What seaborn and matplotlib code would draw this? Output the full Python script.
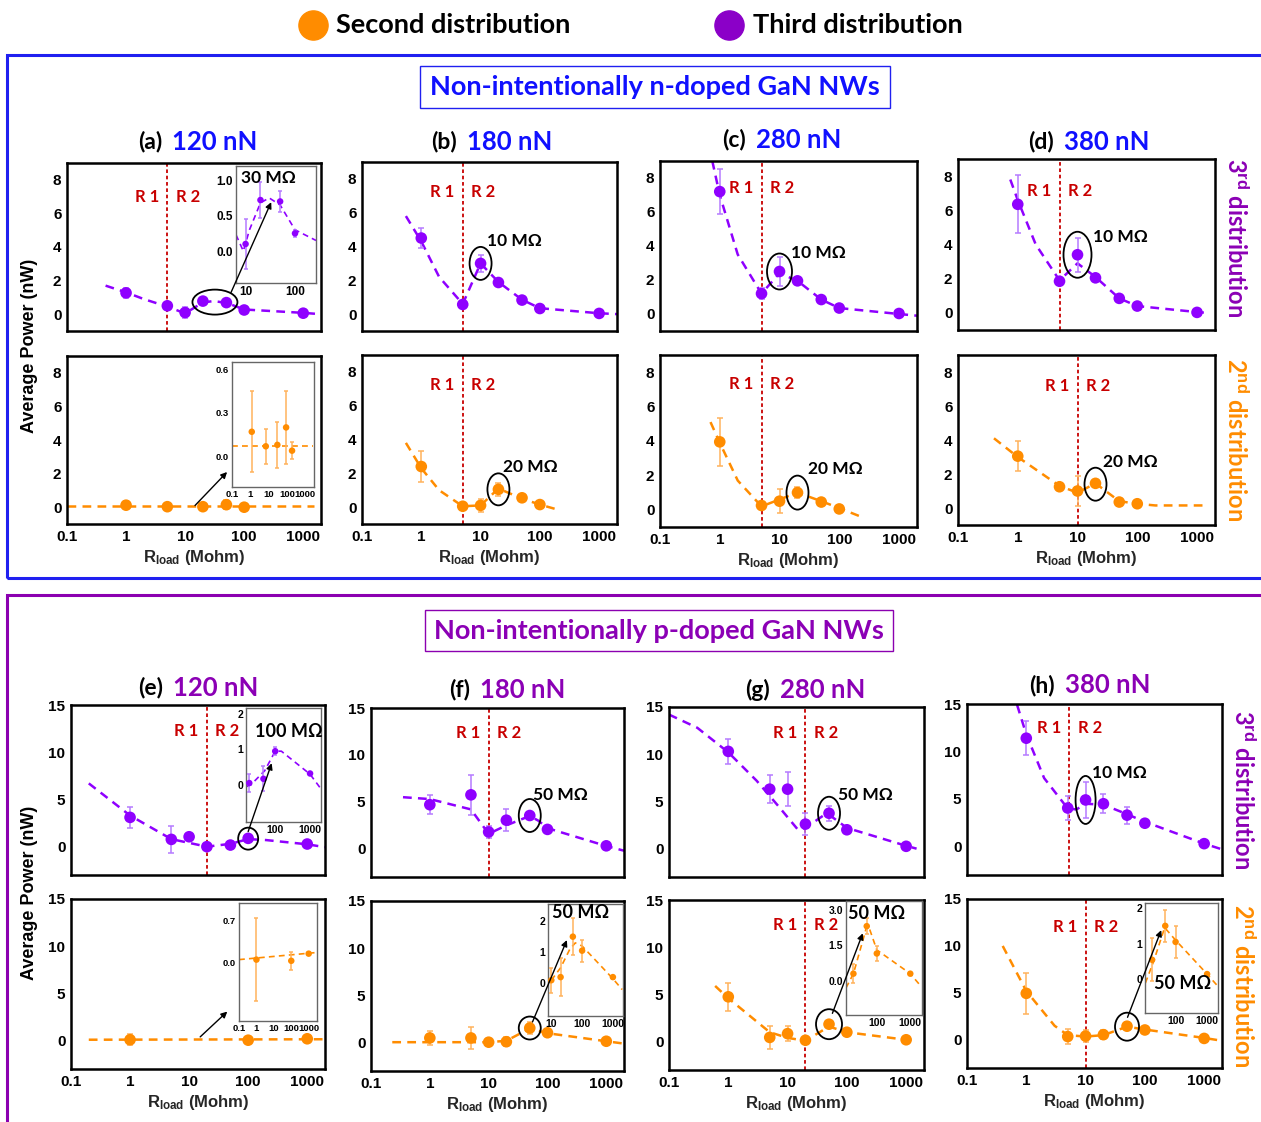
import numpy as np
import matplotlib
matplotlib.use("Agg")
import matplotlib.pyplot as plt
import matplotlib.transforms as mtransforms
from matplotlib.patches import Ellipse, Rectangle, ConnectionPatch
from matplotlib.lines import Line2D
from matplotlib.ticker import (LogLocator, MultipleLocator, FixedLocator,
                               FuncFormatter, NullFormatter)
import seaborn as sns

W, H = 1261, 1122

PURPLE = '#8F00FF'
PURPLE_ERR = '#B57BFF'
ORANGE = '#FF8C00'
ORANGE_ERR = '#FFB35C'
RED = '#C80000'
BLUE = '#1010FF'
PLUM = '#8B00B5'

# ---------------- data ----------------
r_all = [1, 5, 10, 20, 50, 100, 1000]
r_six = [1, 5, 10, 20, 50, 100]

# (a) 120 nN, n-doped
a3_y = [1.27, 0.5, 0.1, 0.78, 0.69, 0.25, 0.06]
a3_err = [0.3, 0.1, 0.3, 0.2, 0.15, 0.1, 0.05]
a3_fit_x = [0.45, 1, 2, 5, 10, 20, 30, 50, 100, 1000, 2000]
a3_fit_y = [1.7, 1.3, 0.9, 0.45, 0.05, 0.7, 0.78, 0.68, 0.28, 0.08, 0.0]
a3_in_x = [10, 20, 50, 100]
a3_in_y = [0.1, 0.72, 0.7, 0.25]
a3_in_err = [0.35, 0.25, 0.15, 0.05]
a3_in_fit_x = [6.4, 9, 12, 20, 30, 50, 100, 266]
a3_in_fit_y = [0.23, 0.0, 0.3, 0.68, 0.75, 0.65, 0.3, 0.15]
a2_x = [1, 5, 20, 50, 100]
a2_y = [0.12, 0.03, 0.03, 0.15, 0.0]
a2_err = [0.25, 0.1, 0.1, 0.25, 0.1]
a2_fit_x = [0.1, 1500]
a2_fit_y = [0.05, 0.05]
a2_in_x = [1.2, 7, 30, 90, 190]
a2_in_y = [0.17, 0.07, 0.08, 0.2, 0.04]
a2_in_err = [0.28, 0.12, 0.16, 0.25, 0.06]
a2_in_fit_x = [0.1, 2500]
a2_in_fit_y = [0.07, 0.07]

# (b) 180 nN
b3_y = [4.5, 0.57, 3.0, 1.87, 0.83, 0.33, 0.04]
b3_err = [0.6, 0.1, 0.5, 0.15, 0.1, 0.1, 0.05]
b3_fit_x = [0.55, 1, 2, 5, 10, 20, 50, 100, 1000, 2000]
b3_fit_y = [5.8, 4.3, 2.2, 0.6, 3.0, 1.9, 0.85, 0.35, 0.05, 0.0]
b2_y = [2.4, 0.05, 0.1, 1.05, 0.55, 0.15]
b2_err = [0.9, 0.1, 0.4, 0.4, 0.1, 0.1]
b2_fit_x = [0.55, 1, 2, 5, 10, 20, 50, 100, 200]
b2_fit_y = [3.8, 2.3, 1.0, 0.05, 0.1, 1.1, 0.5, 0.15, -0.15]

# (c) 280 nN
c3_y = [7.2, 1.2, 2.5, 1.95, 0.85, 0.35, 0.03]
c3_err = [1.3, 0.3, 0.85, 0.15, 0.1, 0.1, 0.05]
c3_fit_x = [0.75, 1, 2, 5, 10, 20, 50, 100, 1000, 2000]
c3_fit_y = [9.0, 7.0, 3.5, 1.2, 2.4, 1.95, 0.85, 0.35, 0.0, -0.1]
c2_y = [3.95, 0.25, 0.5, 1.0, 0.45, 0.05]
c2_err = [1.4, 0.15, 0.7, 0.3, 0.1, 0.1]
c2_fit_x = [0.7, 1, 2, 5, 10, 20, 50, 100, 230]
c2_fit_y = [5.1, 3.9, 1.7, 0.2, 0.6, 1.0, 0.5, 0.1, -0.4]

# (d) 380 nN
d3_y = [6.35, 1.85, 3.4, 2.05, 0.85, 0.4, 0.03]
d3_err = [1.7, 0.1, 1.0, 0.15, 0.1, 0.1, 0.05]
d3_fit_x = [0.75, 1, 2, 5, 10, 20, 50, 100, 1000, 1500]
d3_fit_y = [7.8, 6.6, 4.0, 1.9, 2.9, 2.1, 0.85, 0.4, 0.05, 0.0]
d2_y = [3.05, 1.25, 1.0, 1.45, 0.35, 0.25]
d2_err = [0.9, 0.1, 0.9, 0.2, 0.1, 0.1]
d2_fit_x = [0.4, 1, 5, 10, 20, 50, 100, 200, 1500]
d2_fit_y = [4.1, 3.0, 1.3, 0.9, 1.45, 0.4, 0.25, 0.15, 0.15]

# (e) 120 nN, p-doped
e3_y = [3.1, 0.77, 1.05, 0.0, 0.17, 0.88, 0.28]
e3_err = [1.1, 1.4, 0.1, 0.1, 0.1, 0.2, 0.1]
e3_fit_x = [0.2, 1, 5, 10, 20, 50, 100, 200, 1000, 2000]
e3_fit_y = [6.7, 3.3, 0.8, 0.4, 0.0, 0.3, 0.8, 0.7, 0.25, -0.05]
e3_in_x = [18, 46, 100, 1000]
e3_in_y = [0.05, 0.17, 0.95, 0.32]
e3_in_err = [0.25, 0.35, 0.12, 0.05]
e3_in_fit_x = [15, 20, 50, 100, 150, 1000, 2000]
e3_in_fit_y = [-0.05, 0.0, 0.4, 0.95, 0.95, 0.3, -0.1]
e2_x = [1, 100, 1000]
e2_y = [0.1, 0.05, 0.2]
e2_err = [0.6, 0.1, 0.1]
e2_fit_x = [0.2, 2000]
e2_fit_y = [0.1, 0.15]
e2_in_x = [1, 100, 1000]
e2_in_y = [0.05, 0.03, 0.15]
e2_in_err = [0.7, 0.15, 0.03]
e2_in_fit_x = [0.1, 3000]
e2_in_fit_y = [0.05, 0.17]

# (f) 180 nN
f3_y = [4.7, 5.75, 1.8, 3.05, 3.55, 2.07, 0.32]
f3_err = [1.0, 2.1, 0.6, 1.2, 0.2, 0.2, 0.1]
f3_fit_x = [0.35, 1, 5, 10, 20, 50, 70, 100, 1000, 2000]
f3_fit_y = [5.5, 5.3, 4.2, 1.6, 2.5, 3.5, 3.0, 2.2, 0.3, -0.2]
f2_y = [0.5, 0.5, 0.05, 0.1, 1.55, 1.05, 0.15]
f2_err = [0.7, 1.2, 0.1, 0.5, 0.6, 0.1, 0.1]
f2_fit_x = [0.23, 10, 20, 50, 100, 1000, 2000]
f2_fit_y = [0.05, 0.05, 0.2, 1.5, 1.0, 0.15, -0.1]
f2_in_x = [10, 20, 50, 100, 1000]
f2_in_y = [0.1, 0.2, 1.5, 1.05, 0.2]
f2_in_err = [0.4, 0.6, 0.6, 0.35, 0.05]
f2_in_fit_x = [10, 20, 40, 60, 100, 1000, 2000]
f2_in_fit_y = [0.1, 0.5, 1.1, 1.3, 1.2, 0.15, -0.2]

# (g) 280 nN
g3_y = [10.3, 6.3, 6.3, 2.6, 3.75, 2.0, 0.25]
g3_err = [1.3, 1.5, 1.8, 1.2, 0.8, 0.2, 0.1]
g3_fit_x = [0.1, 0.3, 1, 3, 7, 15, 20, 40, 50, 100, 1000, 1500]
g3_fit_y = [14.2, 12.8, 10.2, 7.2, 4.5, 2.0, 2.2, 3.5, 3.6, 2.2, 0.3, 0.0]
g2_y = [4.75, 0.45, 0.85, 0.15, 1.85, 1.0, 0.2]
g2_err = [1.5, 1.2, 0.8, 0.1, 0.2, 0.1, 0.1]
g2_fit_x = [0.6, 1, 5, 10, 20, 50, 100, 1000, 1500]
g2_fit_y = [5.9, 4.6, 1.0, 0.4, 0.1, 1.6, 1.0, 0.2, 0.1]
g2_in_x = [20, 50, 100, 1000]
g2_in_y = [0.3, 2.3, 1.15, 0.3]
g2_in_err = [0.4, 0.35, 0.3, 0.05]
g2_in_fit_x = [12, 20, 40, 50, 60, 100, 1000, 2000]
g2_in_fit_y = [-0.3, 0.3, 1.8, 2.3, 2.2, 1.3, 0.3, -0.2]

# (h) 380 nN
h3_y = [11.4, 4.05, 4.9, 4.5, 3.3, 2.45, 0.3]
h3_err = [1.8, 1.3, 1.9, 1.0, 0.9, 0.2, 0.1]
h3_fit_x = [0.7, 1, 2, 5, 7, 10, 20, 50, 100, 1000, 2000]
h3_fit_y = [14.9, 11.8, 7.2, 4.0, 3.9, 4.5, 4.4, 3.4, 2.6, 0.3, -0.3]
h2_y = [4.95, 0.35, 0.4, 0.55, 1.45, 1.05, 0.15]
h2_err = [2.2, 0.8, 0.6, 0.5, 0.4, 0.1, 0.1]
h2_fit_x = [0.4, 1, 3, 5, 10, 20, 50, 100, 1000, 2000]
h2_fit_y = [10.0, 5.2, 1.5, 0.5, 0.35, 0.5, 1.4, 1.1, 0.2, -0.1]
h2_in_x = [18, 47, 100, 1000]
h2_in_y = [0.55, 1.5, 1.05, 0.15]
h2_in_err = [0.6, 0.45, 0.45, 0.03]
h2_in_fit_x = [11, 20, 45, 100, 1000, 2000]
h2_in_fit_y = [-0.1, 0.5, 1.45, 1.1, 0.15, -0.15]

# ---------------- style ----------------
sns.set_theme(style="white")
plt.rcParams['font.family'] = ['Liberation Sans', 'DejaVu Sans']
plt.rcParams['font.weight'] = 'bold'
plt.rcParams['axes.labelweight'] = 'bold'
plt.rcParams['mathtext.fontset'] = 'custom'
plt.rcParams['mathtext.rm'] = 'Liberation Sans:bold'
plt.rcParams['mathtext.it'] = 'Liberation Sans:bold'
plt.rcParams['mathtext.bf'] = 'Liberation Sans:bold'
CAL = ['Lato', 'DejaVu Sans']

fig = plt.figure(figsize=(W / 100, H / 100), dpi=100)
fmt_g = FuncFormatter(lambda v, _: f'{v:g}')


def px(x0, y0, x1, y1):
    return [x0 / W, 1 - y1 / H, (x1 - x0) / W, (y1 - y0) / H]


def main_axes(rect, big, xlabels):
    ax = fig.add_axes(px(*rect))
    ax.set_xscale('log')
    ax.set_xlim(0.1, 2000)
    if big:
        ax.set_ylim(-3, 15)
        ax.yaxis.set_major_locator(MultipleLocator(5))
        ax.yaxis.set_minor_locator(MultipleLocator(2.5))
    else:
        ax.set_ylim(-1, 9)
        ax.yaxis.set_major_locator(MultipleLocator(2))
        ax.yaxis.set_minor_locator(MultipleLocator(1))
    ax.xaxis.set_major_locator(LogLocator(base=10, numticks=12))
    ax.xaxis.set_minor_locator(LogLocator(base=10, subs=np.arange(2, 10), numticks=12))
    ax.xaxis.set_major_formatter(fmt_g)
    ax.xaxis.set_minor_formatter(NullFormatter())
    ax.tick_params(which='both', direction='in', top=False, right=False,
                   width=1.3, labelsize=11, pad=4, colors='black')
    ax.tick_params(which='major', length=5)
    ax.tick_params(which='minor', length=3)
    ax.tick_params(axis='x', labelbottom=xlabels)
    for s in ax.spines.values():
        s.set_linewidth(1.8)
        s.set_color('black')
    if xlabels:
        ax.set_xlabel(r'R$_{\mathrm{load}}$ (Mohm)', fontsize=12, labelpad=3)
    return ax


def inset(rect, xlim, ylim, yticks, ylabels, xticks, lsize=7.5):
    ax = fig.add_axes(px(*rect))
    ax.set_xscale('log')
    ax.set_xlim(*xlim)
    ax.set_ylim(*ylim)
    ax.yaxis.set_major_locator(FixedLocator(yticks))
    ax.set_yticklabels(ylabels)
    ax.xaxis.set_major_locator(FixedLocator(xticks))
    ax.xaxis.set_major_formatter(fmt_g)
    ax.xaxis.set_minor_locator(LogLocator(base=10, subs=np.arange(2, 10), numticks=12))
    ax.xaxis.set_minor_formatter(NullFormatter())
    ax.tick_params(which='both', direction='in', top=False, right=False,
                   labelsize=lsize, pad=2, width=0.8, colors='black')
    ax.tick_params(which='major', length=3)
    ax.tick_params(which='minor', length=1.5)
    for s in ax.spines.values():
        s.set_linewidth(1.0)
        s.set_color('#666666')
    ax.set_facecolor('white')
    return ax


def series(ax, x, y, err, fx, fy, color, ecolor, s=70, lw=1.8, cap=2.5):
    ax.plot(fx, fy, color=color, lw=lw, ls=(0, (3.5, 2.5)), zorder=2)
    ax.errorbar(x, y, yerr=err, fmt='none', ecolor=ecolor, elinewidth=1.1,
                capsize=cap, capthick=1.1, zorder=3)
    sns.scatterplot(x=x, y=y, ax=ax, color=color, s=s, edgecolor='none',
                    linewidth=0, zorder=4, legend=False)


def regions(ax, xv, ytxt=None):
    ax.axvline(xv, color=RED, lw=1.3, ls=(0, (2, 1.5)), zorder=1)
    if ytxt is not None:
        kw = dict(textcoords='offset points', va='center', color=RED,
                  fontsize=12, family=CAL, fontweight='bold')
        ax.annotate('R 1', (xv, ytxt), xytext=(-6, 0), ha='right', **kw)
        ax.annotate('R 2', (xv, ytxt), xytext=(6, 0), ha='left', **kw)


def ring(ax, x, y, w, h):
    tr = fig.dpi_scale_trans + mtransforms.ScaledTranslation(x, y, ax.transData)
    ax.add_patch(Ellipse((0, 0), w / 100, h / 100, transform=tr, fill=False,
                         ec='black', lw=1.3, zorder=5))


def tag(ax, text, x, y, coords='data', fs=12.5):
    tr = ax.transData if coords == 'data' else ax.transAxes
    ax.text(x, y, text, transform=tr, ha='left', va='center', fontsize=fs,
            family=CAL, fontweight='bold', color='black', zorder=6)


def pointer(ax, xy, ins, xy2, axes_frac=False):
    con = ConnectionPatch(xyA=xy, coordsA=ax.transData, xyB=xy2,
                          coordsB=ins.transAxes if axes_frac else ins.transData,
                          arrowstyle='-|>', mutation_scale=9, lw=1.0,
                          color='black', zorder=10)
    fig.add_artist(con)


def title(x_mid, y, letter, force, color):
    fig.text(x_mid / W, 1 - y / H, letter, ha='right', va='center',
             fontsize=16.5, family=CAL, fontweight='bold', color='black')
    fig.text((x_mid + 10) / W, 1 - y / H, force, ha='left', va='center',
             fontsize=18.5, family=CAL, fontweight='bold', color=color)


# ---------------- frames, legend, headers ----------------
fig.add_artist(Rectangle((7 / W, 1 - 578 / H), 1270 / W, 523 / H, transform=fig.transFigure,
                         fill=False, ec='#2020F0', lw=2.2))
fig.add_artist(Rectangle((7 / W, 1 - 1130 / H), 1270 / W, 535 / H, transform=fig.transFigure,
                         fill=False, ec='#8B00B0', lw=2.2))
fig.add_artist(Rectangle((420 / W, 1 - 108 / H), 470 / W, 42 / H, transform=fig.transFigure,
                         fill=False, ec='#2020F0', lw=1.0))
fig.text(655 / W, 1 - 87 / H, 'Non-intentionally n-doped GaN NWs', ha='center', va='center',
         fontsize=19.5, family=CAL, fontweight='bold', color=BLUE)
fig.add_artist(Rectangle((425 / W, 1 - 651 / H), 468 / W, 41 / H, transform=fig.transFigure,
                         fill=False, ec='#8B00B0', lw=1.0))
fig.text(659 / W, 1 - 631 / H, 'Non-intentionally p-doped GaN NWs', ha='center', va='center',
         fontsize=19.5, family=CAL, fontweight='bold', color=PLUM)

fig.add_artist(Line2D([313 / W], [1 - 25 / H], marker='o', ms=21, color=ORANGE,
                      ls='none', transform=fig.transFigure))
fig.text(336 / W, 1 - 25 / H, 'Second distribution', ha='left', va='center',
         fontsize=19.5, family=CAL, fontweight='bold', color='black')
fig.add_artist(Line2D([729 / W], [1 - 25 / H], marker='o', ms=21, color='#8B00C8',
                      ls='none', transform=fig.transFigure))
fig.text(753 / W, 1 - 25 / H, 'Third distribution', ha='left', va='center',
         fontsize=19.5, family=CAL, fontweight='bold', color='black')

for ymid in (346, 893):
    fig.text(30 / W, 1 - ymid / H, 'Average Power (nW)', rotation=90, ha='center',
             va='center', fontsize=13, fontweight='bold', color='black')

for xm, ym, txt, col in [(1236, 238, r'3$^{\mathrm{rd}}$ distribution', PLUM),
                         (1236, 440, r'2$^{\mathrm{nd}}$ distribution', ORANGE),
                         (1243, 790, r'3$^{\mathrm{rd}}$ distribution', PLUM),
                         (1243, 986, r'2$^{\mathrm{nd}}$ distribution', ORANGE)]:
    fig.text(xm / W, 1 - ym / H, txt, rotation=-90, ha='center', va='center',
             fontsize=17, family=CAL, fontweight='bold', color=col)

title(162, 142, '(a)', '120 nN', BLUE)
title(457, 142, '(b)', '180 nN', BLUE)
title(746, 140, '(c)', '280 nN', BLUE)
title(1054, 142, '(d)', '380 nN', BLUE)
title(163, 688, '(e)', '120 nN', PLUM)
title(470, 690, '(f)', '180 nN', PLUM)
title(770, 690, '(g)', '280 nN', PLUM)
title(1055, 685, '(h)', '380 nN', PLUM)

# ---------------- (a) ----------------
ax = main_axes((67, 163, 321, 331), False, False)
series(ax, r_all, a3_y, a3_err, a3_fit_x, a3_fit_y, PURPLE, PURPLE_ERR)
regions(ax, 5, 7.0)
ring(ax, 32, 0.72, 45, 25)
ins = inset((236, 166, 316, 283), (6.4, 266), (-0.45, 1.2), [0, 0.5, 1.0],
            ['0.0', '0.5', '1.0'], [10, 100], lsize=8.5)
series(ins, a3_in_x, a3_in_y, a3_in_err, a3_in_fit_x, a3_in_fit_y, PURPLE, PURPLE_ERR,
       s=22, lw=1.2, cap=1.5)
tag(ins, '30 M\u03a9', 0.06, 0.9, 'axes')
pointer(ax, (60, 1.3), ins, (33, 0.69))

ax = main_axes((67, 356, 321, 524), False, True)
series(ax, a2_x, a2_y, a2_err, a2_fit_x, a2_fit_y, ORANGE, ORANGE_ERR)
ins = inset((232, 362, 314, 487), (0.1, 3000), (-0.21, 0.65), [0, 0.3, 0.6],
            ['0.0', '0.3', '0.6'], [0.1, 1, 10, 100, 1000], lsize=6.8)
series(ins, a2_in_x, a2_in_y, a2_in_err, a2_in_fit_x, a2_in_fit_y, ORANGE, ORANGE_ERR,
       s=22, lw=1.2, cap=1.5)
pointer(ax, (14.7, 0.1), ins, (-0.06, 0.12), axes_frac=True)

# ---------------- (b) ----------------
ax = main_axes((362, 162, 617, 331), False, False)
series(ax, r_all, b3_y, b3_err, b3_fit_x, b3_fit_y, PURPLE, PURPLE_ERR)
regions(ax, 5, 7.25)
ring(ax, 10, 3.0, 22, 33)
tag(ax, '10 M\u03a9', 13, 4.35)

ax = main_axes((362, 355, 617, 524), False, True)
series(ax, r_six, b2_y, b2_err, b2_fit_x, b2_fit_y, ORANGE, ORANGE_ERR)
regions(ax, 5, 7.2)
ring(ax, 20, 1.05, 22, 32)
tag(ax, '20 M\u03a9', 24, 2.4)

# ---------------- (c) ----------------
ax = main_axes((660, 161, 917, 331), False, False)
series(ax, r_all, c3_y, c3_err, c3_fit_x, c3_fit_y, PURPLE, PURPLE_ERR)
regions(ax, 5, 7.4)
ring(ax, 10, 2.5, 25, 36)
tag(ax, '10 M\u03a9', 15.4, 3.6)

ax = main_axes((660, 355, 917, 527), False, True)
series(ax, r_six, c2_y, c2_err, c2_fit_x, c2_fit_y, ORANGE, ORANGE_ERR)
regions(ax, 5, 7.3)
ring(ax, 20, 1.0, 22, 34)
tag(ax, '20 M\u03a9', 30, 2.4)

# ---------------- (d) ----------------
ax = main_axes((958, 159, 1215, 330), False, False)
series(ax, r_all, d3_y, d3_err, d3_fit_x, d3_fit_y, PURPLE, PURPLE_ERR)
regions(ax, 5, 7.1)
ring(ax, 10, 3.4, 28, 46)
tag(ax, '10 M\u03a9', 18, 4.45)

ax = main_axes((958, 355, 1215, 525), False, True)
series(ax, r_six, d2_y, d2_err, d2_fit_x, d2_fit_y, ORANGE, ORANGE_ERR)
regions(ax, 10, 7.2)
ring(ax, 20, 1.4, 22, 33)
tag(ax, '20 M\u03a9', 27, 2.7)

# ---------------- (e) ----------------
ax = main_axes((71, 705, 325, 875), True, False)
series(ax, r_all, e3_y, e3_err, e3_fit_x, e3_fit_y, PURPLE, PURPLE_ERR)
regions(ax, 20, 12.2)
ring(ax, 100, 0.85, 20, 22)
ins = inset((246, 708, 321, 822), (14.5, 2060), (-1.05, 2.17), [0, 1, 2],
            ['0', '1', '2'], [100, 1000])
series(ins, e3_in_x, e3_in_y, e3_in_err, e3_in_fit_x, e3_in_fit_y, PURPLE, PURPLE_ERR,
       s=22, lw=1.2, cap=1.5)
tag(ins, '100 M\u03a9', 0.12, 0.79, 'axes', fs=13)
pointer(ax, (100, 1.6), ins, (79, 0.61))

ax = main_axes((71, 899, 325, 1069), True, True)
series(ax, e2_x, e2_y, e2_err, e2_fit_x, e2_fit_y, ORANGE, ORANGE_ERR)
ins = inset((239, 903, 317, 1021), (0.1, 3000), (-0.98, 1.0), [-0.7, 0, 0.7],
            ['', '0.0', '0.7'], [0.1, 1, 10, 100, 1000], lsize=6.8)
series(ins, e2_in_x, e2_in_y, e2_in_err, e2_in_fit_x, e2_in_fit_y, ORANGE, ORANGE_ERR,
       s=22, lw=1.2, cap=1.5)
pointer(ax, (15.4, 0.4), ins, (-0.15, 0.08), axes_frac=True)

# ---------------- (f) ----------------
ax = main_axes((371, 708, 624, 877), True, False)
series(ax, r_all, f3_y, f3_err, f3_fit_x, f3_fit_y, PURPLE, PURPLE_ERR)
regions(ax, 10, 12.35)
ring(ax, 50, 3.55, 22, 33)
tag(ax, '50 M\u03a9', 56, 5.7)

ax = main_axes((371, 901, 624, 1071), True, True)
series(ax, r_all, f2_y, f2_err, f2_fit_x, f2_fit_y, ORANGE, ORANGE_ERR)
ring(ax, 50, 1.55, 22, 23)
ins = inset((548, 904, 623, 1016), (7.8, 2130), (-1.05, 2.55), [0, 1, 2],
            ['0', '1', '2'], [10, 100, 1000])
series(ins, f2_in_x, f2_in_y, f2_in_err, f2_in_fit_x, f2_in_fit_y, ORANGE, ORANGE_ERR,
       s=22, lw=1.2, cap=1.5)
tag(ins, '50 M\u03a9', 0.05, 0.92, 'axes', fs=13)
pointer(ax, (55.7, 2.2), ins, (32, 1.39))

# ---------------- (g) ----------------
ax = main_axes((669, 707, 924, 877), True, False)
series(ax, r_all, g3_y, g3_err, g3_fit_x, g3_fit_y, PURPLE, PURPLE_ERR)
regions(ax, 20, 12.2)
ring(ax, 50, 3.75, 22, 33)
tag(ax, '50 M\u03a9', 70, 5.7)

ax = main_axes((669, 900, 924, 1070), True, True)
series(ax, r_all, g2_y, g2_err, g2_fit_x, g2_fit_y, ORANGE, ORANGE_ERR)
regions(ax, 20, 12.3)
ring(ax, 50, 1.85, 26, 30)
ins = inset((846, 901, 922, 1015), (12, 2240), (-1.44, 3.36), [0, 1.5, 3.0],
            ['0.0', '1.5', '3.0'], [100, 1000])
series(ins, g2_in_x, g2_in_y, g2_in_err, g2_in_fit_x, g2_in_fit_y, ORANGE, ORANGE_ERR,
       s=22, lw=1.2, cap=1.5)
tag(ins, '50 M\u03a9', 0.03, 0.89, 'axes', fs=13)
pointer(ax, (57, 3.0), ins, (38, 2.0))

# ---------------- (h) ----------------
ax = main_axes((967, 704, 1222, 875), True, False)
series(ax, r_all, h3_y, h3_err, h3_fit_x, h3_fit_y, PURPLE, PURPLE_ERR)
regions(ax, 5.3, 12.5)
ring(ax, 10, 4.9, 20, 48)
tag(ax, '10 M\u03a9', 13, 7.7)

ax = main_axes((967, 899, 1222, 1068), True, True)
series(ax, r_all, h2_y, h2_err, h2_fit_x, h2_fit_y, ORANGE, ORANGE_ERR)
regions(ax, 10, 12.0)
ring(ax, 50, 1.4, 24, 28)
ins = inset((1145, 903, 1218, 1013), (10.7, 2220), (-0.94, 2.14), [0, 1, 2],
            ['0', '1', '2'], [100, 1000])
series(ins, h2_in_x, h2_in_y, h2_in_err, h2_in_fit_x, h2_in_fit_y, ORANGE, ORANGE_ERR,
       s=22, lw=1.2, cap=1.5)
tag(ins, '50 M\u03a9', 0.12, 0.27, 'axes', fs=13)
pointer(ax, (51, 2.4), ins, (35, 1.38))

fig.savefig('out.png', dpi=100, facecolor='white')
